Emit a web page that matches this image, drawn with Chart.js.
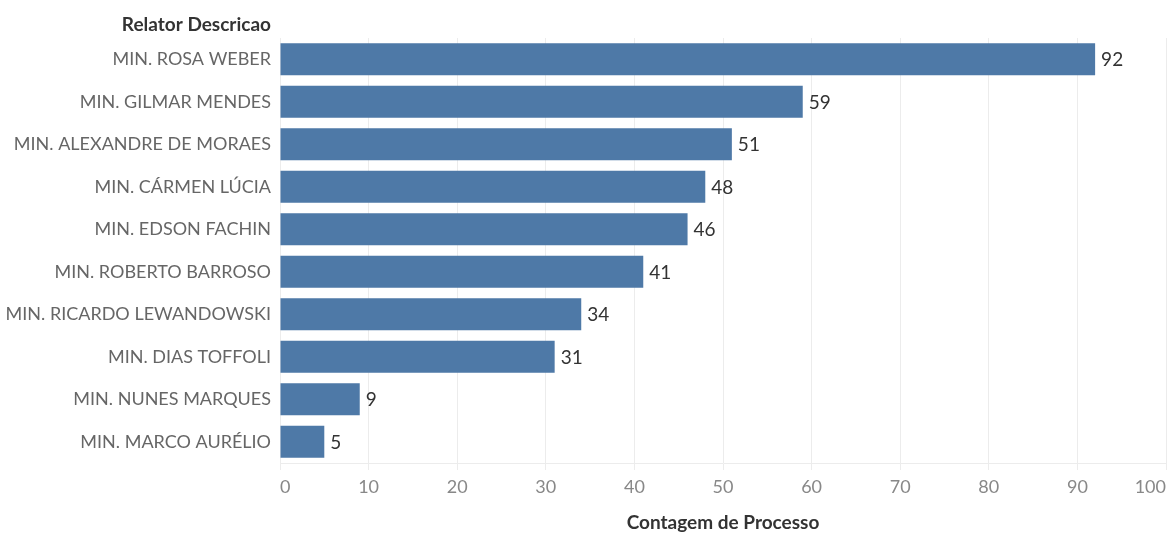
<!DOCTYPE html>
<html>
<head>
<meta charset="utf-8">
<script src="https://cdn.jsdelivr.net/npm/chart.js@4/dist/chart.umd.min.js"></script>
<style>
  html, body { margin: 0; padding: 0; background: #fff; }
  #wrap { width: 1172px; height: 533px; }
</style>
</head>
<body>
<div id="wrap"><canvas id="myChart" width="1172" height="533"></canvas></div>
<script>
const relatores = [
  "MIN. ROSA WEBER",
  "MIN. GILMAR MENDES",
  "MIN. ALEXANDRE DE MORAES",
  "MIN. CÁRMEN LÚCIA",
  "MIN. EDSON FACHIN",
  "MIN. ROBERTO BARROSO",
  "MIN. RICARDO LEWANDOWSKI",
  "MIN. DIAS TOFFOLI",
  "MIN. NUNES MARQUES",
  "MIN. MARCO AURÉLIO",
];
const contagem = [92, 59, 51, 48, 46, 41, 34, 31, 9, 5];
const eixoX = { min: 0, max: 100, step: 10 };

const FONT = "Lato, 'Open Sans', sans-serif";

// rotulos ao lado das barras + cabecalho e titulo do eixo
const extras = {
  id: "extras",
  afterDatasetsDraw(chart) {
    const ctx = chart.ctx;
    const area = chart.chartArea;
    const meta = chart.getDatasetMeta(0);
    ctx.save();
    ctx.font = "19px " + FONT;
    ctx.fillStyle = "#333";
    ctx.textAlign = "left";
    ctx.textBaseline = "middle";
    meta.data.forEach((bar, i) => {
      ctx.fillText(String(contagem[i]), bar.x + 6, bar.y + 1);
    });
    ctx.font = "bold 19px " + FONT;
    ctx.textAlign = "right";
    ctx.fillText("Relator Descricao", area.left - 9, 25);
    ctx.textAlign = "center";
    ctx.fillText("Contagem de Processo", (area.left + area.right) / 2, 523);
    ctx.restore();
  },
};

new Chart(document.getElementById("myChart"), {
  type: "bar",
  data: {
    labels: relatores,
    datasets: [
      {
        data: contagem,
        backgroundColor: "#4e79a7",
        borderWidth: 0,
        barPercentage: 0.75,
        categoryPercentage: 1,
      },
    ],
  },
  options: {
    indexAxis: "y",
    responsive: false,
    animation: false,
    layout: { padding: { top: 38, right: 6, left: 0, bottom: 0 } },
    plugins: {
      legend: { display: false },
      tooltip: { enabled: false },
    },
    scales: {
      x: {
        min: eixoX.min,
        max: eixoX.max,
        ticks: {
          stepSize: eixoX.step,
          color: "#888",
          font: { family: FONT, size: 18 },
          padding: 6,
          align: "inner",
        },
        grid: { color: "#ececec", tickLength: 7 },
        border: { color: "#ececec" },
        afterFit(scale) {
          scale.height = 70;
          scale.paddingLeft = 0;
          scale.paddingRight = 0;
        },
      },
      y: {
        ticks: {
          color: "#666",
          font: { family: FONT, size: 18 },
          padding: 9,
        },
        grid: { display: false, drawTicks: false },
        border: { display: false },
        afterFit(scale) {
          scale.width = 280;
        },
      },
    },
  },
  plugins: [extras],
});
</script>
</body>
</html>
